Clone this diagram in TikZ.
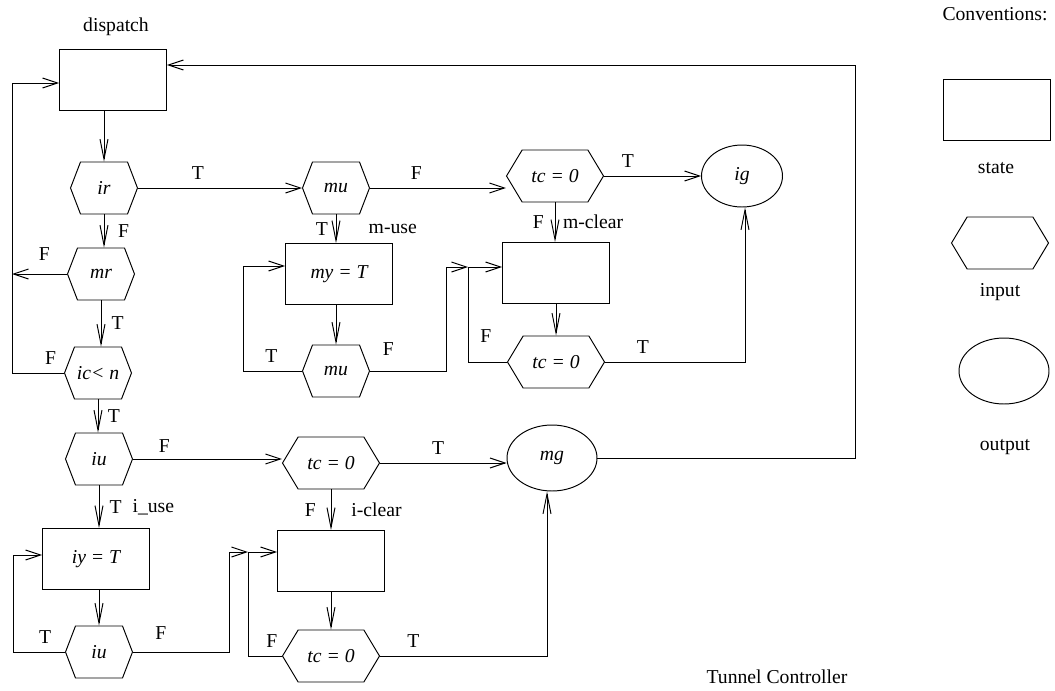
\documentclass[tikz,border=0pt]{standalone}
\usepackage{fontspec}
\setmainfont{Liberation Serif}
\usepackage{tikz}
\usetikzlibrary{arrows.meta,positioning,shapes.geometric,shapes.symbols}

\newcommand{\figfont}{\fontsize{11.2}{13.5}\selectfont}

\begin{document}
\begin{tikzpicture}[
x=0.02cm, y=-0.02cm,
font=\figfont,
line width=0.55pt,
state/.style={draw, minimum width=2.14cm, minimum height=1.22cm, inner sep=0pt, font=\figfont\itshape},
input/.style={draw, signal, signal to=east and west, signal pointer angle=138, minimum width=1.34cm, minimum height=1.04cm, inner sep=0pt, font=\figfont\itshape},
inputw/.style={input, signal pointer angle=118, minimum width=1.94cm},
output/.style={draw, ellipse, minimum width=1.8cm, minimum height=1.32cm, inner sep=0pt, font=\figfont\itshape},
arrow/.style={-{Straight Barb[length=3mm, width=2mm]}},
varrow/.style={-{Straight Barb[length=4mm, width=1.6mm]}},
lbl/.style={above=1.5pt}
]
\useasboundingbox (0,0) rectangle (1055,690);

% conventions
\node (conv) at (995,14) {Conventions:};
\node[state] (lgstate) at (997,110) {};
\node (lgstatet) at (996,168) {state};
\node[inputw] (lginput) at (1000,243) {};
\node (lginputt) at (1000,292) {input};
\node[output] (lgoutput) at (1004,371) {};
\node (lgoutputt) at (1005,447) {output};
\node (title) at (777,677) {Tunnel Controller};

% left column
\node[state] (disp) at (113,80) {};
\node (dispt) at (116,27) {dispatch};
\node[input] (ir) at (104,188) {ir};
\node[input] (mr) at (101,274) {mr};
\node[input] (icn) at (98,373) {ic< n};
\node[input] (iua) at (99,459) {iu};
\node[state] (iy) at (96,559) {iy = T};
\node[input] (iub) at (99,652) {iu};

% m part
\node[input] (mua) at (336,188) {mu};
\node[state] (my) at (339,274) {my = T};
\node[input] (mub) at (336,371) {mu};
\node[inputw] (tca) at (555,176) {tc = 0};
\node[output, minimum width=1.62cm, minimum height=1.24cm] (ig) at (742,176) {ig};
\node[state] (mclr) at (556,273) {};
\node[inputw] (tcb) at (556,362) {tc = 0};

% i part
\node[inputw] (tcc) at (331,463) {tc = 0};
\node[output] (mg) at (552,458) {mg};
\node[state] (iclr) at (331,561) {};
\node[inputw] (tcd) at (331,656) {tc = 0};

\coordinate (lx) at (12,83);
\coordinate (rx) at (855,65);
\coordinate (jm) at (468,267);
\coordinate (jm0) at (446,267);
\coordinate (lm) at (243,266);
\coordinate (jb) at (248,552);
\coordinate (jb0) at (229,552);
\coordinate (lb) at (13,555);

\draw[varrow] (disp.south -| ir.north) -- (ir.north);
\draw[arrow] (ir.east) -- node[lbl, pos=.365] {T} (mua.west);
\draw[varrow] (ir.south) -- node[right=4.5pt] {F} (ir.south |- mr.north);
\draw[arrow] (mr.west) -- node[above=4pt, pos=.41] {F} (mr.west -| lx);
\draw[varrow] (mr.south) -- node[right=2.5pt] {T} (mr.south |- icn.north);
\draw[arrow] (icn.west) -| node[lbl, pos=.13] {F} (lx) -- (lx -| disp.west);
\draw[varrow] (icn.south) -- node[right=2pt] {T} (icn.south |- iua.north);
\draw[arrow] (mg.east) -| (rx) -- (rx -| disp.east);

\draw[arrow] (mua.east) -- node[lbl, pos=.34] {F} (mua.east -| tca.west);
\draw[arrow] (tca.east) -- node[lbl, pos=.245] {T} (ig.west);
\draw[varrow] (mua.south) -- node[left=1pt] {T} node[right=15pt] {m-use} (mua.south |- my.north);
\draw[varrow] (my.south -| mub.north) -- (mub.north);
\draw[arrow] (mub.west) -| node[lbl, pos=.26] {T} (lm) -- (lm -| my.west);
\draw[arrow] (mub.east) -| node[above=5pt, pos=.12] {F} (jm0) -- (jm);
\draw[varrow] (tca.south) -- node[left=2.8pt] {F} node[right=1pt] {m-clear} (tca.south |- mclr.north);
\draw[varrow] (mclr.south -| tcb.north) -- (tcb.north);
\draw[arrow] (tcb.west) -| node[above=7.5pt, pos=.27] {F} (jm) -- (jm -| mclr.west);
\draw[varrow] (tcb.east) -| node[lbl, pos=.135] {T} ([xshift=0.06cm]ig.south);

\draw[arrow] (iua.east) -- node[above=0pt, pos=.21] {F} (iua.east -| tcc.west);
\draw[arrow] (tcc.east) -- node[lbl, pos=.46] {T} (tcc.east -| mg.west);
\draw[varrow] (iua.south) -- node[right=2.5pt] {T} node[right=15.5pt] {i\_use} (iua.south |- iy.north);
\draw[varrow] (iy.south -| iub.north) -- (iub.north);
\draw[arrow] (iub.west) -| node[lbl, pos=.19] {T} (lb) -- (lb -| iy.west);
\draw[arrow] (iub.east) -| node[above=3.5pt, pos=.145] {F} (jb0) -- (jb);
\draw[varrow] (tcc.south) -- node[left=5pt] {F} node[right=8pt] {i-clear} (tcc.south |- iclr.north);
\draw[varrow] (iclr.south) -- (iclr.south |- tcd.north);
\draw[arrow] (tcd.west) -| node[lbl, pos=.15] {F} (jb) -- (jb -| iclr.west);
\draw[varrow] (tcd.east) -| node[lbl, pos=.1] {T} ([xshift=-0.1cm]mg.south);
\end{tikzpicture}
\end{document}
